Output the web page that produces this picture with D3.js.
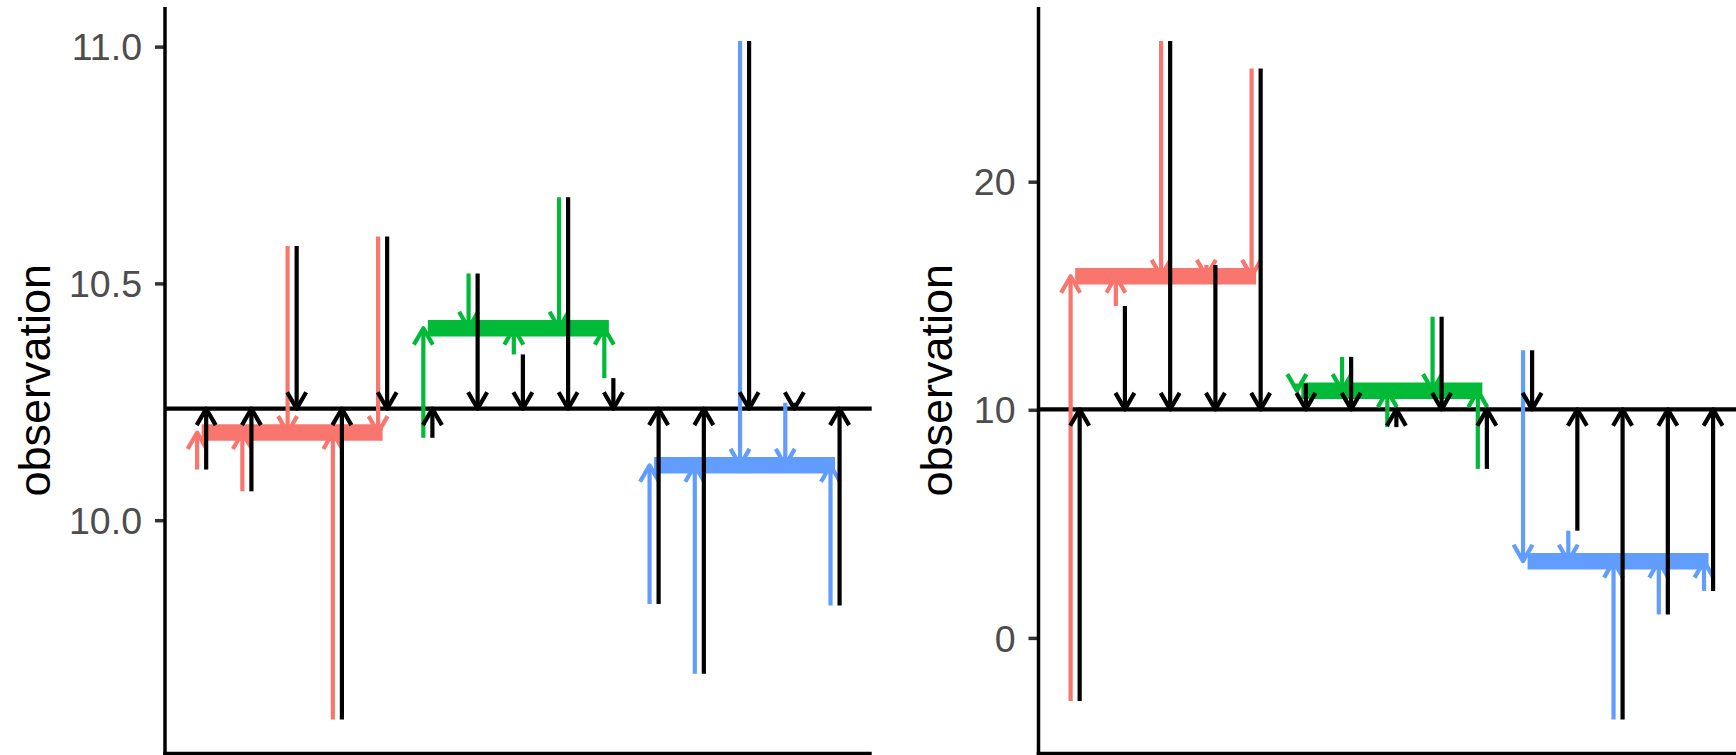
<!DOCTYPE html>
<html>
<head>
<meta charset="utf-8">
<script src="https://cdn.jsdelivr.net/npm/d3@7/dist/d3.min.js"></script>
<style>
    body { margin: 0; background: #fff; }
    svg { display: block; }
    text { font-family: "Liberation Sans", Arial, Helvetica, sans-serif; }
</style>
</head>
<body>
<div id="chart"></div>
<script>
// groups and observations (5 per group)
var groupNames = ["A", "B", "C"];
var groupColors = ["#F8766D", "#00BA38", "#619CFF"];
var groupOf = ["A", "A", "A", "A", "A", "B", "B", "B", "B", "B", "C", "C", "C", "C", "C"];

// left panel: small between-group differences
var leftValues = [10.107, 10.061, 10.579, 9.579, 10.599,
                  10.174, 10.521, 10.350, 10.682, 10.300,
                  9.823, 9.676, 11.012, 10.248, 9.820];
// right panel: large between-group differences
var rightValues = [-2.77, 14.55, 26.17, 16.35, 24.96,
                   11.15, 12.32, 9.24, 14.08, 7.41,
                   12.61, 4.70, -3.58, 1.03, 2.06];

var leftTicks = [10.0, 10.5, 11.0];
var rightTicks = [0, 10, 20];

var W = 1736, H = 755;
var panelTop = 7, panelBottom = 753.5, panelWidth = 706.7;

var svg = d3.select("#chart").append("svg")
    .attr("width", W)
    .attr("height", H);

var color = d3.scaleOrdinal().domain(groupNames).range(groupColors);

function arrowSeg(g, xp, y0, y1, col, width) {
    g.append("line")
        .attr("x1", xp).attr("x2", xp)
        .attr("y1", y0).attr("y2", y1)
        .attr("stroke", col)
        .attr("stroke-width", width)
        .attr("stroke-linecap", "butt");
    if (y0 == y1) return;
    var dir = y1 > y0 ? 1 : -1;
    var L = 19, a = Math.PI / 6;
    var dx = L * Math.sin(a), dy = L * Math.cos(a);
    g.append("path")
        .attr("d", "M" + (xp - dx) + "," + (y1 - dir * dy) + "L" + xp + "," + y1 + "L" + (xp + dx) + "," + (y1 - dir * dy))
        .attr("fill", "none")
        .attr("stroke", col)
        .attr("stroke-width", width)
        .attr("stroke-linejoin", "round")
        .attr("stroke-linecap", "butt");
}

function drawPanel(values, ticks, fmt, left, titleX) {
    var n = values.length;
    var data = values.map(function (v, i) { return { idx: i + 1, value: v, group: groupOf[i] }; });

    // x: observation index, black arrows at +0.1, coloured at -0.1, 5% expansion
    var xmin = 0.9, xmax = n + 0.1, xpad = 0.05 * (xmax - xmin);
    var x = d3.scaleLinear()
        .domain([xmin - xpad, xmax + xpad])
        .range([left, left + panelWidth]);

    var ext = d3.extent(values);
    var ypad = 0.05 * (ext[1] - ext[0]);
    var y = d3.scaleLinear()
        .domain([ext[0] - ypad, ext[1] + ypad])
        .range([panelBottom, panelTop]);

    var grandMean = d3.mean(values);
    var groupMeans = {};
    groupNames.forEach(function (gname) {
        var sub = data.filter(function (d) { return d.group == gname; });
        groupMeans[gname] = {
            mean: d3.mean(sub, function (d) { return d.value; }),
            first: d3.min(sub, function (d) { return d.idx; }),
            last: d3.max(sub, function (d) { return d.idx; })
        };
    });

    var g = svg.append("g");

    // grand mean line
    g.append("line")
        .attr("x1", left).attr("x2", left + panelWidth)
        .attr("y1", y(grandMean)).attr("y2", y(grandMean))
        .attr("stroke", "#000")
        .attr("stroke-width", 4.3);

    // group mean bars
    groupNames.forEach(function (gname) {
        var m = groupMeans[gname];
        g.append("line")
            .attr("x1", x(m.first)).attr("x2", x(m.last))
            .attr("y1", y(m.mean)).attr("y2", y(m.mean))
            .attr("stroke", color(gname))
            .attr("stroke-width", 16.5);
    });

    // observation -> group mean
    data.forEach(function (d) {
        arrowSeg(g, x(d.idx - 0.1), y(d.value), y(groupMeans[d.group].mean), color(d.group), 4.2);
    });

    // observation -> grand mean
    data.forEach(function (d) {
        arrowSeg(g, x(d.idx + 0.1), y(d.value), y(grandMean), "#000", 4.2);
    });

    // axes
    var yAxis = g.append("g")
        .attr("transform", "translate(" + left + ",0)")
        .call(d3.axisLeft(y).tickValues(ticks).tickFormat(d3.format(fmt))
            .tickSize(10).tickSizeOuter(0).tickPadding(13));
    yAxis.select(".domain").remove();
    yAxis.selectAll(".tick line").attr("stroke", "#333333").attr("stroke-width", 3.5);
    yAxis.selectAll(".tick text")
        .attr("fill", "#4D4D4D")
        .style("font-size", "37.5px")
        .attr("dy", "0.35em");

    g.append("line")
        .attr("x1", left).attr("x2", left)
        .attr("y1", panelTop).attr("y2", panelBottom + 1.75)
        .attr("stroke", "#000").attr("stroke-width", 3.5);
    g.append("line")
        .attr("x1", left - 1.75).attr("x2", left + panelWidth)
        .attr("y1", panelBottom).attr("y2", panelBottom)
        .attr("stroke", "#000").attr("stroke-width", 3.5);

    g.append("text")
        .attr("transform", "translate(" + titleX + "," + ((panelTop + panelBottom) / 2) + ") rotate(-90)")
        .style("text-anchor", "middle")
        .style("font-size", "45px")
        .attr("fill", "#000")
        .text("observation");
}

drawPanel(leftValues, leftTicks, ".1f", 165, 50);
drawPanel(rightValues, rightTicks, "d", 1038.5, 952);
</script>
</body>
</html>
